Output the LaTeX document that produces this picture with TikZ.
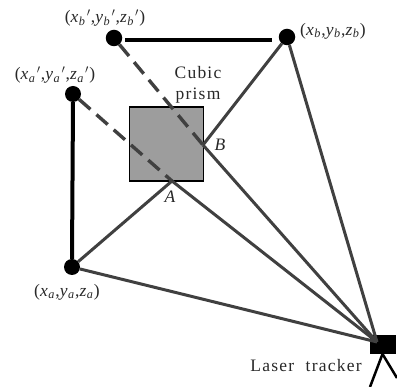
\documentclass[tikz,border=0pt]{standalone}
\usepackage{fontspec}
\usetikzlibrary{calc}
\setmainfont{Liberation Serif}
\newfontfamily\spaced[LetterSpace=7]{Liberation Serif}
\tikzset{
 dot/.style={circle,fill=black,inner sep=0pt,minimum size=16.5pt},
 ray/.style={line width=3pt,draw={rgb,255:red,64;green,64;blue,64}},
 dash ray/.style={line width=3.4pt,draw={rgb,255:red,64;green,64;blue,64},dash pattern=on 15pt off 8pt},
 bar/.style={line width=4pt,black},
 lab/.style={inner sep=0pt,font=\fontsize{17.5}{18}\selectfont,text={rgb,255:red,40;green,40;blue,40}},
 prismbox/.style={draw=black,line width=1.5pt,fill={rgb,255:red,157;green,157;blue,157},minimum size=74pt,inner sep=0pt},
 trackerbox/.style={fill=black,minimum width=26pt,minimum height=19pt,inner sep=0pt}
}
\newcommand{\subs}[1]{\kern0.5pt$_{\mathit{#1}}$\kern0.5pt}
\newcommand{\prm}{\kern0.8pt$'$\kern0.3pt}
\begin{document}
\begin{tikzpicture}[x=1pt,y=-1pt]
\useasboundingbox (0,0) rectangle (397,387);
\node[prismbox] (prism) at (166.5,144) {};
\node[trackerbox] (tracker) at (383,344.5) {};
\node[dot] (bp) at (114,38) {};
\node[dot] (b) at (287,37) {};
\node[dot,minimum size=16pt] (ap) at (73,94) {};
\node[dot,minimum size=16pt] (a) at (72,267) {};
\coordinate (A) at (172,181);
\coordinate (B) at (203,145);
\coordinate (T) at (377,342);
\coordinate (leg) at (382.5,354);
\coordinate (legl) at (370,387);
\coordinate (legr) at (397,378);
\draw[dash ray] (ap) -- (A);
\draw[dash ray] (bp) -- (B);
\draw[ray] (a) -- (A);
\draw[ray] (A) -- (T);
\draw[ray] (b) -- (B);
\draw[ray] (B) -- (T);
\draw[ray] (a) -- (T);
\draw[ray] (b) -- (T);
\draw[bar] ($(bp.east)+(3,2)$) -- ($(b.west)+(-7,3)$);
\draw[bar] (ap.south) -- (a.north);
\draw[line width=2.5pt,black] (leg) -- (legl);
\draw[line width=2.5pt,black] (leg) -- (legr);
\node[lab] (tbp) at (105,18) {(\textit{x}\subs{b}\prm,\textit{y}\subs{b}\prm,\textit{z}\subs{b}\prm)};
\node[lab] (tap) at (55,75) {(\textit{x}\subs{a}\prm,\textit{y}\subs{a}\prm,\textit{z}\subs{a}\prm)};
\node[lab] (tb) at (333,31) {(\textit{x}\subs{b},\textit{y}\subs{b},\textit{z}\subs{b})};
\node[lab] (ta) at (67,292) {(\textit{x}\subs{a},\textit{y}\subs{a},\textit{z}\subs{a})};
\node[lab,font=\fontsize{17.5}{21}\selectfont\spaced,align=center] (tc) at (198,85) {Cubic\\prism};
\node[lab] (tA) at (170,197) {\textit{A}};
\node[lab] (tB) at (220,145) {\textit{B}};
\node[lab,font=\fontsize{17.5}{18}\selectfont\spaced] (tl) at (306,366) {Laser\kern6pt\ tracker};
\end{tikzpicture}
\end{document}
